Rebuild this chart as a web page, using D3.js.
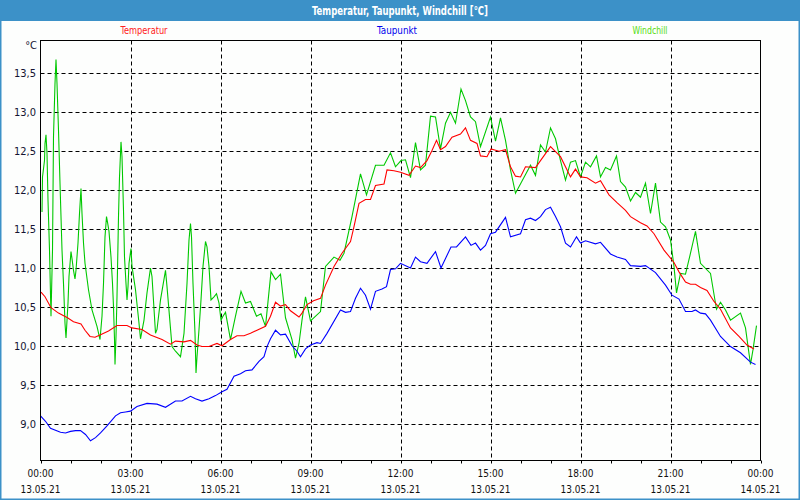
<!DOCTYPE html>
<html><head><meta charset="utf-8">
<script src="https://cdn.jsdelivr.net/npm/d3@7"></script>
<style>
html,body{margin:0;padding:0;background:#fff;}
svg{display:block;}
text{font-family:'DejaVu Sans Condensed','Liberation Sans',sans-serif;}
</style></head>
<body><svg id="chart" width="800" height="500"></svg>
<script>
const title = "Temperatur, Taupunkt, Windchill [°C]";
const seriesNames = ["Temperatur", "Taupunkt", "Windchill"];
const seriesColors = ["#ff0000", "#0000ff", "#00c800"];
const legendColors = ["#ff2020", "#0000ee", "#55dd11"];
const yTicks = [9.0, 9.5, 10.0, 10.5, 11.0, 11.5, 12.0, 12.5, 13.0, 13.5];
const xTickHours = [0, 3, 6, 9, 12, 15, 18, 21, 24];
const xTimeLabels = ["00:00","03:00","06:00","09:00","12:00","15:00","18:00","21:00","00:00"];
const xDateLabels = ["13.05.21","13.05.21","13.05.21","13.05.21","13.05.21","13.05.21","13.05.21","13.05.21","14.05.21"];

// [minutes since 13.05.21 00:00, value °C]
const temperatur = [[1,10.69],[9,10.63],[21,10.49],[36,10.42],[54,10.36],[66,10.31],[81,10.28],[89,10.20],[99,10.12],[109,10.11],[119,10.14],[136,10.19],[153,10.26],[173,10.26],[183,10.23],[203,10.21],[220,10.14],[243,10.08],[260,10.02],[270,10.06],[287,10.05],[300,10.07],[313,10.01],[323,9.99],[337,9.99],[353,10.03],[363,10.00],[380,10.08],[393,10.13],[407,10.13],[420,10.16],[433,10.20],[450,10.25],[460,10.38],[470,10.56],[480,10.51],[490,10.53],[500,10.45],[517,10.37],[523,10.42],[533,10.53],[546,10.58],[560,10.61],[570,10.78],[587,11.02],[603,11.19],[620,11.34],[627,11.53],[637,11.83],[650,11.88],[660,11.88],[670,12.06],[687,12.08],[693,12.26],[707,12.25],[720,12.23],[737,12.19],[750,12.31],[760,12.29],[773,12.38],[783,12.51],[792,12.64],[800,12.52],[810,12.56],[823,12.68],[840,12.72],[850,12.80],[860,12.64],[873,12.60],[880,12.44],[893,12.43],[901,12.53],[917,12.50],[930,12.52],[940,12.30],[950,12.18],[960,12.17],[970,12.30],[990,12.29],[1000,12.38],[1020,12.56],[1040,12.43],[1060,12.17],[1070,12.27],[1080,12.17],[1093,12.16],[1110,12.09],[1120,12.12],[1137,11.94],[1153,11.84],[1170,11.74],[1180,11.66],[1200,11.58],[1213,11.54],[1227,11.44],[1247,11.23],[1267,11.07],[1277,10.95],[1290,10.82],[1300,10.79],[1310,10.79],[1320,10.75],[1333,10.71],[1347,10.57],[1360,10.47],[1380,10.23],[1397,10.12],[1413,10.01],[1427,9.96]];

const taupunkt = [[0,9.10],[10,9.03],[20,8.94],[40,8.89],[50,8.88],[60,8.90],[70,8.91],[80,8.91],[90,8.86],[100,8.78],[110,8.82],[120,8.88],[133,8.97],[150,9.10],[160,9.14],[170,9.15],[180,9.16],[193,9.22],[213,9.26],[233,9.25],[250,9.21],[270,9.29],[283,9.29],[300,9.35],[310,9.32],[323,9.29],[337,9.32],[350,9.36],[363,9.41],[373,9.44],[387,9.61],[400,9.64],[410,9.68],[423,9.69],[437,9.80],[447,9.86],[453,9.99],[460,10.09],[470,10.20],[480,10.14],[490,10.15],[503,10.00],[513,9.93],[520,9.86],[530,9.96],[540,10.01],[553,10.04],[560,10.03],[573,10.16],[600,10.46],[610,10.43],[620,10.44],[630,10.61],[640,10.74],[650,10.65],[660,10.47],[670,10.70],[683,10.73],[692,10.76],[700,10.98],[710,10.99],[720,11.06],[740,11.00],[750,11.14],[760,11.08],[773,11.06],[790,11.21],[801,11.00],[821,11.27],[832,11.27],[850,11.40],[861,11.29],[870,11.32],[880,11.23],[890,11.29],[900,11.44],[910,11.46],[930,11.65],[940,11.40],[960,11.44],[970,11.62],[980,11.64],[990,11.61],[1000,11.66],[1010,11.75],[1020,11.78],[1030,11.66],[1040,11.53],[1050,11.32],[1060,11.27],[1072,11.40],[1080,11.32],[1090,11.35],[1110,11.31],[1120,11.33],[1140,11.18],[1153,11.14],[1170,11.11],[1180,11.03],[1200,11.02],[1210,11.03],[1230,10.94],[1250,10.78],[1263,10.65],[1277,10.60],[1290,10.44],[1303,10.44],[1310,10.46],[1320,10.42],[1330,10.41],[1340,10.33],[1360,10.12],[1380,9.99],[1400,9.91],[1420,9.79],[1430,9.76]];

const windchill = [[3,11.72],[4,12.17],[8,12.38],[9,12.60],[11,12.71],[13,12.47],[15,11.87],[18,11.23],[21,10.38],[24,11.23],[26,12.69],[29,13.37],[31,13.68],[33,13.37],[36,12.77],[39,12.09],[43,11.23],[46,10.80],[49,10.29],[51,10.10],[55,10.55],[57,10.89],[61,11.21],[63,11.12],[66,10.97],[69,10.86],[71,10.97],[75,11.32],[78,11.70],[81,12.02],[83,11.70],[86,11.32],[89,11.06],[96,10.72],[103,10.46],[113,10.25],[119,10.08],[123,10.38],[126,10.80],[129,11.40],[132,11.66],[134,11.59],[137,11.47],[141,11.14],[144,10.80],[146,10.50],[148,10.08],[149,9.76],[151,10.12],[153,10.63],[156,11.66],[158,12.17],[160,12.47],[161,12.62],[163,12.43],[166,11.74],[168,11.14],[171,10.80],[173,10.59],[175,10.76],[177,11.06],[181,11.25],[183,11.02],[190,10.72],[197,10.29],[200,10.09],[207,10.33],[213,10.68],[220,11.00],[223,10.89],[230,10.16],[233,10.21],[240,10.59],[250,10.97],[253,10.76],[263,9.99],[270,9.93],[280,9.86],[287,10.16],[293,10.80],[297,11.36],[300,11.57],[302,11.40],[305,10.80],[309,10.16],[311,9.65],[313,9.86],[317,10.21],[321,10.59],[325,11.02],[330,11.34],[333,11.27],[337,11.02],[341,10.59],[347,10.63],[352,10.67],[357,10.55],[361,10.33],[365,10.38],[370,10.43],[380,10.08],[390,10.38],[401,10.70],[410,10.55],[420,10.57],[432,10.38],[441,10.41],[450,10.25],[461,10.95],[470,10.85],[480,10.92],[490,10.36],[503,10.08],[510,9.84],[517,10.03],[523,10.33],[530,10.63],[540,10.32],[560,10.44],[570,11.02],[587,11.14],[599,11.10],[607,11.19],[623,11.66],[640,12.21],[652,11.94],[670,12.32],[687,12.32],[700,12.48],[710,12.30],[721,12.38],[730,12.39],[740,12.16],[750,12.61],[760,12.26],[770,12.32],[780,12.95],[790,12.94],[800,12.53],[810,12.86],[820,13.00],[830,12.86],[841,13.30],[850,13.15],[860,12.94],[870,12.88],[880,12.56],[900,12.94],[910,12.63],[920,12.93],[930,12.64],[940,12.26],[950,11.96],[980,12.32],[990,12.19],[1000,12.58],[1010,12.49],[1020,12.80],[1030,12.66],[1040,12.38],[1050,12.13],[1060,12.36],[1070,12.38],[1080,12.17],[1090,12.36],[1100,12.30],[1112,12.44],[1120,12.17],[1130,12.29],[1140,12.26],[1152,12.44],[1160,12.11],[1170,12.04],[1180,11.86],[1190,11.97],[1200,11.91],[1210,12.09],[1220,11.70],[1230,12.09],[1240,11.59],[1250,11.53],[1260,11.36],[1267,11.02],[1272,10.68],[1280,10.93],[1290,10.92],[1300,11.19],[1310,11.47],[1320,11.06],[1340,10.93],[1352,10.47],[1360,10.56],[1370,10.46],[1380,10.33],[1400,10.42],[1410,10.23],[1420,9.76],[1425,9.95],[1432,10.26]];

const svg = d3.select("#chart");
const W = 800, H = 500;
const plot = {left: 40.5, right: 760.5, top: 40.5, bottom: 460.5};

// background & frame
svg.append("rect").attr("x",0).attr("y",0).attr("width",W).attr("height",H).attr("fill","#fdfefd");
svg.append("rect").attr("x",0).attr("y",0).attr("width",W).attr("height",21).attr("fill","#3c91c8");
svg.append("rect").attr("x",0.5).attr("y",0.5).attr("width",W-1).attr("height",H-1)
  .attr("fill","none").attr("stroke","#3c91c8").attr("stroke-width",2);
svg.append("text").attr("x",W/2).attr("y",14.5).attr("text-anchor","middle")
  .attr("fill","#ffffff").attr("font-weight","bold").attr("font-size","12px")
  .attr("textLength",176).attr("lengthAdjust","spacingAndGlyphs").text(title);

const x = d3.scaleLinear().domain([0, 24*60]).range([plot.left, plot.right]);
const y = d3.scaleLinear().domain([8.526, 13.923]).range([plot.bottom, plot.top]);

// horizontal grid
svg.append("g").selectAll("line").data(yTicks).join("line")
  .attr("x1",plot.left).attr("x2",plot.right)
  .attr("y1",d=>Math.round(y(d))+0.5).attr("y2",d=>Math.round(y(d))+0.5)
  .attr("stroke","#000").attr("stroke-dasharray","4,3").attr("stroke-width",1);
// vertical grid
svg.append("g").selectAll("line").data(xTickHours.slice(1,-1)).join("line")
  .attr("x1",d=>Math.round(x(d*60))+0.5).attr("x2",d=>Math.round(x(d*60))+0.5)
  .attr("y1",plot.top).attr("y2",plot.bottom)
  .attr("stroke","#000").attr("stroke-dasharray","4,3").attr("stroke-width",1);

// series
const line = d3.line().x(d=>x(d[0])).y(d=>y(d[1]));
const data = [temperatur, taupunkt, windchill];
const order = [2,0,1];
svg.append("defs").append("clipPath").attr("id","clip").append("rect")
  .attr("x",plot.left).attr("y",plot.top).attr("width",plot.right-plot.left).attr("height",plot.bottom-plot.top);
const gLines = svg.append("g").attr("clip-path","url(#clip)");
order.forEach(i=>{
  gLines.append("path").datum(data[i]).attr("d",line).attr("fill","none")
    .attr("stroke",seriesColors[i]).attr("stroke-width",1.1);
});

// frame of plot
svg.append("rect").attr("x",plot.left).attr("y",plot.top)
  .attr("width",plot.right-plot.left).attr("height",plot.bottom-plot.top)
  .attr("fill","none").attr("stroke","#000").attr("stroke-width",1);

// y axis labels
svg.append("g").selectAll("text").data(yTicks).join("text")
  .attr("x",36).attr("y",d=>y(d)+4).attr("text-anchor","end")
  .attr("font-size","11px").attr("fill","#141432")
  .text(d=>d.toFixed(1).replace(".",","));
svg.append("text").attr("x",37).attr("y",49).attr("text-anchor","end")
  .attr("font-size","11px").attr("fill","#141432").text("°C");

// x axis ticks
const hours = d3.range(0,25);
svg.append("g").selectAll("line").data(hours).join("line")
  .attr("x1",d=>Math.round(x(d*60))+0.5).attr("x2",d=>Math.round(x(d*60))+0.5)
  .attr("y1",plot.bottom).attr("y2",plot.bottom+3)
  .attr("stroke","#000");
const xl = svg.append("g");
xl.selectAll("text.t").data(xTickHours).join("text").attr("class","t")
  .attr("x",(d)=>x(d*60)).attr("y",477).attr("text-anchor","middle")
  .attr("font-size","10px").attr("fill","#111").text((d,i)=>xTimeLabels[i]);
xl.selectAll("text.d").data(xTickHours).join("text").attr("class","d")
  .attr("x",(d)=>x(d*60)).attr("y",493).attr("text-anchor","middle")
  .attr("font-size","10px").attr("fill","#111").text((d,i)=>xDateLabels[i]);

// legend
const legendX = [144, 397, 650];
const legendW = [47, 40, 35];
svg.append("g").selectAll("text").data(seriesNames).join("text")
  .attr("x",(d,i)=>legendX[i]).attr("y",34).attr("text-anchor","middle")
  .attr("font-size","11px").attr("fill",(d,i)=>legendColors[i])
  .attr("textLength",(d,i)=>legendW[i]).attr("lengthAdjust","spacingAndGlyphs").text(d=>d);
</script></body></html>
